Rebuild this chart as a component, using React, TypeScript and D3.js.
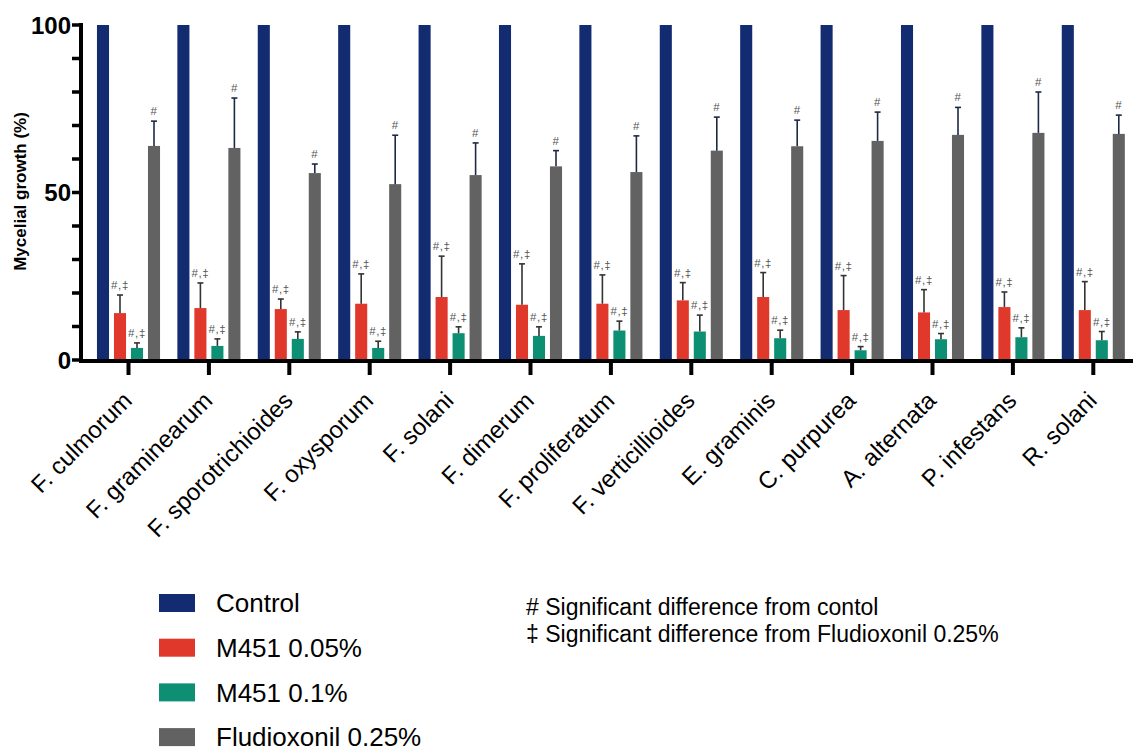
// Mycelial growth grouped bar chart with error bars and significance marks
import { useRef, useEffect } from "react";
import * as d3 from "d3";

const categories = [
  "F. culmorum",
  "F. graminearum",
  "F. sporotrichioides",
  "F. oxysporum",
  "F. solani",
  "F. dimerum",
  "F. proliferatum",
  "F. verticillioides",
  "E. graminis",
  "C. purpurea",
  "A. alternata",
  "P. infestans",
  "R. solani",
];

const seriesNames = ["Control", "M451 0.05%", "M451 0.1%", "Fludioxonil 0.25%"];
const seriesColors = ["#132b70", "#e0382b", "#0d8f73", "#626262"];

const controlValues = [100, 100, 100, 100, 100, 100, 100, 100, 100, 100, 100, 100, 100];
const m451LowValues = [14.0, 15.5, 15.2, 16.8, 18.8, 16.5, 16.8, 17.8, 18.8, 14.9, 14.2, 15.8, 14.9];
const m451LowErrors = [5.4, 7.5, 3.0, 8.9, 12.2, 12.2, 8.6, 5.3, 7.3, 10.3, 6.8, 4.5, 8.5];
const m451HighValues = [3.6, 4.2, 6.3, 3.6, 8.0, 7.2, 8.8, 8.5, 6.5, 2.9, 6.2, 6.8, 5.9];
const m451HighErrors = [1.5, 2.1, 2.1, 2.0, 1.9, 2.7, 2.8, 4.9, 2.4, 1.1, 1.7, 2.8, 2.6];
const fludioxonilValues = [63.9, 63.3, 55.8, 52.5, 55.2, 57.8, 56.1, 62.5, 63.8, 65.4, 67.2, 67.8, 67.5];
const fludioxonilErrors = [7.4, 14.9, 2.7, 14.6, 9.6, 4.7, 10.8, 10.0, 7.8, 8.6, 8.2, 12.2, 5.6];

// significance marks per series (control has none)
const seriesMarks = ["", "#,‡", "#,‡", "#"];

const yTicks = [0, 50, 100];
const noteLines = [
  "# Significant difference from contol",
  "‡ Significant difference from Fludioxonil 0.25%",
];

export default function App() {
  const ref = useRef<SVGSVGElement>(null);

  useEffect(() => {
    const svg = d3.select(ref.current);
    svg.selectAll("*").remove();

    const font = "'Liberation Sans', Arial, sans-serif";

    // Scales
    const x0 = d3.scaleBand().domain(categories).range([88.3, 1133.5]).padding(0);
    const x1 = d3
      .scaleBand()
      .domain(seriesNames)
      .range([0, x0.bandwidth()])
      .paddingInner(0.29)
      .paddingOuter(0.145 + (x0.bandwidth() - 68) / 2 / 17);
    const y = d3.scaleLinear().domain([0, 100]).range([360, 25]);

    const values = [controlValues, m451LowValues, m451HighValues, fludioxonilValues];
    const errors = [null, m451LowErrors, m451HighErrors, fludioxonilErrors];

    const g = svg.append("g");

    // Bars, error bars, marks
    seriesNames.forEach((name, s) => {
      categories.forEach((cat, i) => {
        const bx = x0(cat)! + x1(name)!;
        const bw = x1.bandwidth();
        const v = values[s][i];
        g.append("rect")
          .attr("x", bx)
          .attr("y", y(v))
          .attr("width", bw)
          .attr("height", y(0) - y(v))
          .attr("fill", seriesColors[s]);

        const err = errors[s];
        if (err) {
          const top = y(v + err[i]);
          const cx = bx + bw / 2;
          const errColor = s === 3 ? "#1c2a44" : "#333";
          g.append("line")
            .attr("x1", cx)
            .attr("x2", cx)
            .attr("y1", y(v))
            .attr("y2", top)
            .attr("stroke", errColor)
            .attr("stroke-width", 1.6);
          g.append("line")
            .attr("x1", cx - 3)
            .attr("x2", cx + 3)
            .attr("y1", top)
            .attr("y2", top)
            .attr("stroke", errColor)
            .attr("stroke-width", 1.6);
          g.append("text")
            .attr("x", cx)
            .attr("y", top - 6)
            .attr("text-anchor", "middle")
            .attr("font-family", font)
            .attr("font-size", 11.5)
            .attr("letter-spacing", 0.6)
            .attr("fill", "#555")
            .text(seriesMarks[s]);
        }
      });
    });

    // Y axis
    const yAxis = g.append("g");
    yAxis
      .append("line")
      .attr("x1", 81)
      .attr("x2", 81)
      .attr("y1", y(100) - 2)
      .attr("y2", y(0) + 2)
      .attr("stroke", "#000")
      .attr("stroke-width", 4);
    d3.range(0, 101, 10).forEach((t) => {
      yAxis
        .append("line")
        .attr("x1", 72)
        .attr("x2", 81)
        .attr("y1", y(t))
        .attr("y2", y(t))
        .attr("stroke", "#000")
        .attr("stroke-width", 3.5);
    });
    yTicks.forEach((t) => {
      yAxis
        .append("text")
        .attr("x", 71)
        .attr("y", y(t))
        .attr("dy", "0.36em")
        .attr("text-anchor", "end")
        .attr("font-family", font)
        .attr("font-weight", "bold")
        .attr("font-size", 24)
        .text(t);
    });
    yAxis
      .append("text")
      .attr("transform", `translate(26,${y(50) - 1}) rotate(-90)`)
      .attr("text-anchor", "middle")
      .attr("font-family", font)
      .attr("font-weight", "bold")
      .attr("font-size", 17)
      .text("Mycelial growth (%)");

    // X axis
    const xAxis = g.append("g");
    xAxis
      .append("line")
      .attr("x1", 79)
      .attr("x2", 1133)
      .attr("y1", 361)
      .attr("y2", 361)
      .attr("stroke", "#000")
      .attr("stroke-width", 4);
    categories.forEach((cat) => {
      const cx = x0(cat)! + x0.bandwidth() / 2;
      xAxis
        .append("line")
        .attr("x1", cx)
        .attr("x2", cx)
        .attr("y1", 361)
        .attr("y2", 375)
        .attr("stroke", "#000")
        .attr("stroke-width", 4);
      xAxis
        .append("text")
        .attr("transform", `translate(${cx + 5},${402}) rotate(-45)`)
        .attr("text-anchor", "end")
        .attr("font-family", font)
        .attr("font-size", 24)
        .text(cat);
    });

    // Legend
    const legend = g.append("g");
    seriesNames.forEach((name, s) => {
      const cy = 603 + s * 44.7;
      legend
        .append("rect")
        .attr("x", 159)
        .attr("y", cy - 9)
        .attr("width", 36)
        .attr("height", 18)
        .attr("fill", seriesColors[s]);
      legend
        .append("text")
        .attr("x", 216)
        .attr("y", cy)
        .attr("dy", "0.36em")
        .attr("font-family", font)
        .attr("font-size", 26)
        .text(name);
    });

    // Notes
    noteLines.forEach((line, i) => {
      legend
        .append("text")
        .attr("x", 526)
        .attr("y", 615 + i * 27)
        .attr("font-family", font)
        .attr("font-size", 23)
        .text(line);
    });
  }, []);

  return (
    <svg
      ref={ref}
      width={1133}
      height={751}
      style={{ position: "absolute", left: 0, top: 0, background: "#fff" }}
    ></svg>
  );
}
